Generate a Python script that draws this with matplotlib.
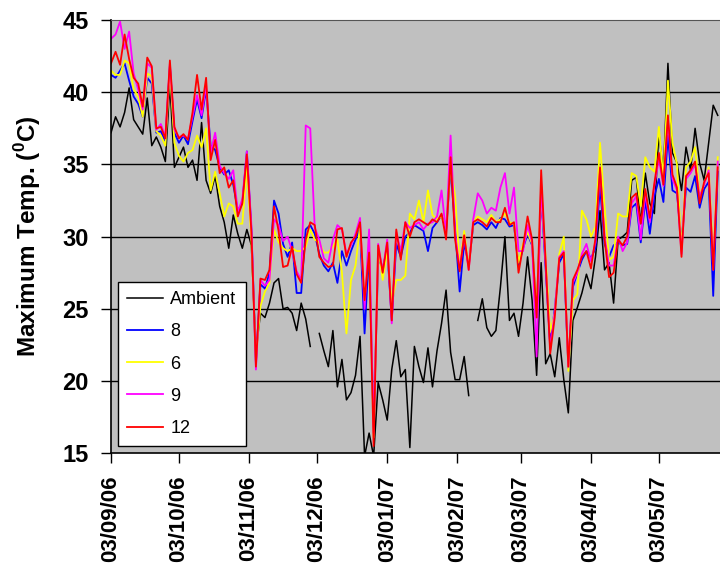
import numpy as np
import matplotlib
matplotlib.use('Agg')
import matplotlib.pyplot as plt
import matplotlib.dates as mdates

nan = np.nan

# Daily maximum temperatures, sampled every second day from 03/09/06
dates = np.arange(np.datetime64('2006-09-03'), np.datetime64('2007-05-31'), np.timedelta64(2, 'D'))

ambient = [
    37.2, 38.3, 37.6, 38.6, 40.3, 38.1, 37.6, 37.1, 39.6, 36.3,
    36.9, 36.2, 35.2, 40.6, 34.8, 35.5, 36.2, 34.8, 35.3, 33.9,
    37.9, 33.9, 33.0, 34.2, 32.1, 31.0, 29.2, 31.5, 30.2, 29.2,
    30.5, 29.4, 22.0, 24.7, 24.4, 25.4, 26.8, 27.1, 25.0, 25.1,
    24.7, 23.5, 25.4, 24.3, 22.4, nan, 23.3, 22.1, 21.0, 23.5,
    19.6, 21.5, 18.7, 19.2, 20.4, 23.1, 14.8, 16.4, 14.8, 19.9,
    18.7, 17.3, 20.8, 22.8, 20.3, 20.8, 15.4, 22.4, 21.0, 19.9,
    22.3, 19.6, 22.1, 24.0, 26.3, 22.0, 20.1, 20.1, 21.7, 19.0,
    nan, 24.2, 25.7, 23.7, 23.1, 23.5, 26.5, 30.0, 24.2, 24.7,
    23.1, 25.4, 28.6, 25.6, 20.4, 28.2, 21.2, 21.9, 20.3, 23.0,
    20.1, 17.8, 24.2, 25.1, 26.1, 27.4, 26.4, 28.6, 31.8, 27.7,
    28.2, 25.4, 29.8, 30.0, 30.3, 33.9, 34.1, 30.9, 34.4, 32.3,
    31.6, 37.2, 34.4, 42.0, 35.8, 35.1, 33.2, 36.2, 34.6, 37.5,
    35.1, 33.9, 36.5, 39.1, 38.4]

temp_8 = [
    41.2, 41.0, 41.5, 42.0, 40.8, 39.7, 39.2, 38.3, 41.0, 40.6,
    37.2, 37.3, 36.6, 41.8, 37.2, 36.5, 37.0, 36.4, 38.0, 39.5,
    38.2, 40.2, 36.3, 36.0, 34.8, 34.3, 34.6, 33.6, 31.8, 32.3,
    35.9, 30.5, 21.3, 26.7, 26.4, 27.5, 32.5, 31.6, 29.5, 28.6,
    29.6, 26.1, 26.1, 30.5, 30.8, 30.2, 28.8, 28.0, 27.6, 28.2,
    26.8, 29.0, 28.0, 29.0, 29.8, 30.6, 23.3, 29.0, 16.8, 28.5,
    27.8, 29.2, 24.2, 29.5, 28.6, 30.0, 30.3, 30.8, 30.6, 30.4,
    29.0, 30.6, 31.0, 31.5, 30.4, 34.8, 30.5, 26.2, 29.6, 28.0,
    30.8, 31.0, 30.8, 30.5, 31.0, 30.6, 31.3, 31.2, 30.7, 30.8,
    28.0, 29.2, 30.2, 29.4, 24.6, 33.0, 27.8, 22.5, 25.0, 28.2,
    28.8, 20.9, 26.5, 27.5, 28.4, 29.0, 28.5, 29.2, 33.5, 29.5,
    28.6, 29.4, 29.6, 29.4, 29.5, 32.0, 32.3, 29.6, 32.5, 30.2,
    32.8, 34.0, 32.4, 37.0, 33.2, 33.0, 29.6, 33.4, 33.1, 34.2,
    32.0, 33.3, 33.8, 25.9, 34.5]

temp_6 = [
    41.5, 41.2, 41.2, 42.2, 42.0, 40.2, 39.7, 38.3, 41.3, 41.1,
    37.3, 37.0, 36.3, 41.6, 36.5, 35.6, 35.2, 35.8, 36.0, 37.0,
    36.2, 37.5, 33.2, 34.5, 33.0, 31.4, 32.3, 32.1, 30.9, 30.9,
    34.8, 29.8, 21.5, 25.2, 26.2, 26.8, 30.5, 29.6, 29.2, 29.0,
    29.2, 29.0, 29.0, 29.3, 30.5, 29.8, 29.6, 28.9, 28.9, 29.3,
    29.8, 27.5, 23.3, 27.0, 28.0, 30.7, 25.6, 29.6, 16.1, 29.3,
    27.0, 29.0, 25.4, 27.0, 27.0, 27.3, 31.6, 31.2, 32.5, 31.0,
    33.2, 31.5, 31.2, 31.4, 30.6, 35.0, 32.8, 28.0, 30.4, 27.9,
    31.0, 31.4, 31.2, 31.0, 31.5, 31.0, 31.2, 31.6, 31.0, 30.9,
    28.2, 29.5, 30.3, 29.5, 24.8, 33.2, 28.5, 23.4, 24.7, 28.8,
    30.0, 20.7, 25.6, 26.0, 31.8, 31.2, 30.0, 30.7, 36.5, 32.1,
    28.4, 28.6, 31.6, 31.4, 31.4, 34.4, 34.2, 32.1, 35.5, 34.8,
    34.5, 37.6, 34.0, 40.8, 36.5, 35.0, 29.0, 34.8, 35.2, 36.2,
    33.0, 33.6, 34.8, 28.5, 35.5]

temp_9 = [
    43.7, 44.0, 44.9, 43.0, 44.2, 41.3, 40.2, 38.8, 42.0, 41.7,
    37.4, 37.8, 36.9, 42.0, 37.4, 36.9, 37.0, 36.8, 38.3, 39.8,
    38.4, 40.5, 35.8, 37.2, 34.9, 34.4, 34.0, 34.6, 31.7, 32.6,
    35.9, 30.8, 20.8, 27.0, 26.6, 27.0, 31.2, 30.8, 29.7, 30.0,
    29.0, 27.6, 27.0, 37.7, 37.5, 30.6, 29.8, 28.5, 28.2, 29.8,
    30.8, 30.5, 28.8, 29.4, 30.2, 31.3, 25.0, 30.5, 16.4, 29.5,
    27.6, 29.8, 24.0, 30.3, 29.0, 31.0, 30.6, 30.8, 31.0, 30.5,
    30.9, 31.0, 31.4, 33.2, 30.2, 37.0, 30.2, 27.8, 30.0, 27.7,
    31.2, 33.0, 32.5, 31.6, 32.0, 31.8, 33.4, 34.4, 31.6, 33.4,
    29.0, 29.0, 30.8, 29.6, 21.7, 33.6, 28.0, 22.2, 24.8, 28.6,
    29.0, 21.0, 26.8, 27.5, 28.8, 29.5, 28.3, 29.6, 34.6, 30.0,
    28.0, 28.0, 30.0, 29.0, 29.6, 32.3, 32.8, 29.8, 33.0, 31.0,
    33.5, 35.4, 33.5, 38.0, 34.0, 33.2, 28.8, 34.0, 34.4, 35.0,
    32.8, 33.6, 34.6, 27.7, 35.2]

temp_12 = [
    42.0, 42.8, 41.9, 44.0, 42.3, 41.0, 40.6, 39.0, 42.4, 41.8,
    37.5, 37.6, 36.8, 42.2, 37.6, 36.8, 37.1, 36.7, 38.6, 41.2,
    38.8, 41.0, 35.3, 36.7, 34.4, 34.8, 33.4, 33.9, 31.4, 32.3,
    35.7, 30.3, 21.0, 27.1, 27.0, 27.7, 32.1, 30.4, 27.9, 28.0,
    29.3, 27.4, 26.8, 29.8, 31.0, 30.8, 28.6, 28.2, 27.9, 28.0,
    30.5, 30.6, 28.6, 29.6, 30.0, 31.0, 25.6, 28.9, 15.5, 29.4,
    27.5, 29.6, 24.2, 30.5, 28.4, 31.0, 30.0, 31.0, 31.2, 31.0,
    30.8, 31.2, 31.0, 31.6, 29.8, 35.5, 29.8, 27.6, 30.1, 27.7,
    31.0, 31.2, 31.0, 30.7, 31.3, 31.0, 31.0, 32.0, 30.8, 31.0,
    27.5, 29.3, 31.4, 29.8, 24.4, 34.6, 28.2, 21.9, 24.4, 28.5,
    28.9, 21.0, 27.0, 27.7, 28.6, 29.0, 27.8, 29.9, 34.8, 29.8,
    27.2, 27.5, 29.8, 29.4, 30.0, 32.7, 33.0, 30.9, 33.3, 31.3,
    33.7, 35.8, 33.6, 38.4, 34.3, 33.4, 28.6, 34.2, 34.6, 35.2,
    32.3, 33.8, 34.4, 27.7, 34.8]

series_labels = ['Ambient', '8', '6', '9', '12']
series_colors = ['black', '#0000FF', '#FFFF00', '#FF00FF', '#FF0000']

plt.rcParams['font.family'] = ['Liberation Sans', 'DejaVu Sans']
plt.rcParams['mathtext.fontset'] = 'custom'
plt.rcParams['mathtext.rm'] = 'Liberation Sans:bold'
plt.rcParams['mathtext.bf'] = 'Liberation Sans:bold'

fig = plt.figure(figsize=(7.2, 5.67), dpi=100)
ax = fig.add_axes([0.1542, 0.2005, 0.8458, 0.7642])
ax.set_facecolor('#C0C0C0')

# Horizontal grid lines drawn behind the data
for level in [20, 25, 30, 35, 40]:
    ax.axhline(level, color='black', linewidth=1.0, zorder=1)

all_series = [ambient, temp_8, temp_6, temp_9, temp_12]
for values, label, color in zip(all_series, series_labels, series_colors):
    lw = 1.1 if label == 'Ambient' else 1.3
    ax.plot(dates, values, color=color, linewidth=lw, label=label, zorder=2)

ax.set_ylim(15, 45)
ax.set_yticks([15, 20, 25, 30, 35, 40, 45])
ax.set_xlim(np.datetime64('2006-09-03'), np.datetime64('2007-05-30'))

ax.xaxis.set_major_locator(mdates.MonthLocator(bymonthday=3))
ax.xaxis.set_major_formatter(mdates.DateFormatter('%d/%m/%y'))

ax.tick_params(axis='y', direction='out', length=7, width=1, pad=9, labelsize=17)
ax.tick_params(axis='x', direction='out', length=7, width=1, pad=9, labelsize=16, rotation=90)
for lab in ax.get_xticklabels() + ax.get_yticklabels():
    lab.set_fontweight('bold')

ax.spines['right'].set_visible(False)
ax.spines['top'].set_color('#555555')
ax.spines['left'].set_linewidth(1.2)
ax.spines['bottom'].set_linewidth(1.2)

ax.set_ylabel(r'Maximum Temp. ($^{0}$C)', fontsize=17.5, fontweight='bold', labelpad=14)

leg = ax.legend(loc='lower left', bbox_to_anchor=(0.0115, 0.017), borderaxespad=0,
                fontsize=13, handlelength=2.0, handletextpad=0.4, labelspacing=0.84,
                borderpad=0.5, fancybox=False, framealpha=1)
leg.get_frame().set_edgecolor('black')
leg.get_frame().set_linewidth(1.0)

plt.savefig('out.png', dpi=100)
